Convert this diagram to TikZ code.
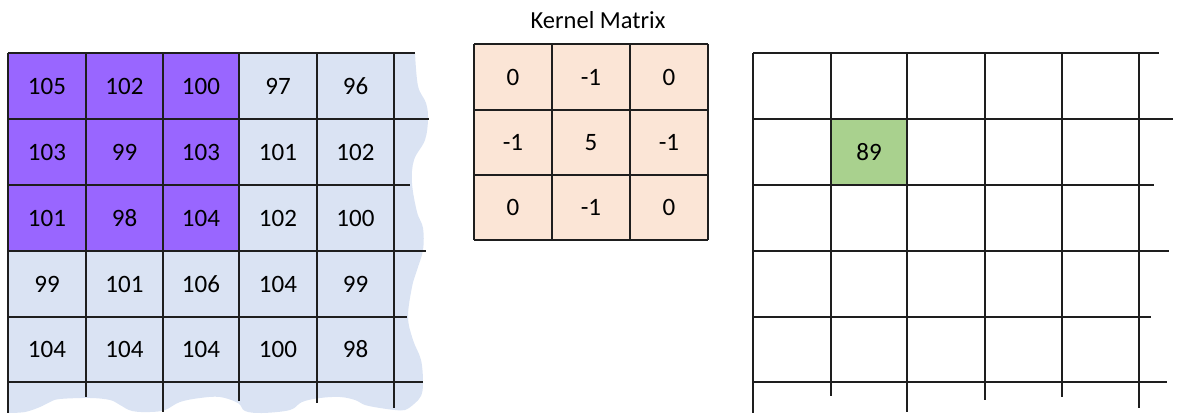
\documentclass[tikz,border=0pt]{standalone}
\usepackage{fontspec}
\setmainfont{Carlito}
\definecolor{gridblue}{HTML}{DAE3F3}
\definecolor{gridpurple}{HTML}{9966FF}
\definecolor{kpeach}{HTML}{FBE5D6}
\definecolor{kgreen}{HTML}{A9D18E}
\definecolor{lineblack}{HTML}{1E1E1E}
\tikzset{
  gline/.style={draw=lineblack, line width=1.5pt},
  numtext/.style={inner sep=0pt, font=\fontsize{25}{28}\selectfont, text=black},
  titletext/.style={inner sep=0pt, font=\fontsize{24.5}{28}\selectfont, text=black}
}
\begin{document}
\begin{tikzpicture}[x=1pt,y=-1pt]
\useasboundingbox (0,0) rectangle (1178,414);
% ---------- left input image ----------
\fill[gridblue] (8,53) -- plot[smooth, tension=0.6] coordinates {
 (415,53) (418,86) (426,103) (428,119) (425,140) (414,160) (412,183)
 (417,212) (423,228) (423,250) (417,270) (412,287) (408,317) (413,340)
 (421,360) (423,383) (421,396) (414,404) (405,410) (395,410) (380,408)
 (365,405) (355,400) (340,397) (320,398) (302,402) (290,410) (262,413)
 (245,411) (238,403) (220,397) (200,398) (180,402) (165,410) (150,412)
 (132,411) (120,405) (110,400) (90,398) (60,399) (50,402) (40,407)
 (25,412) (8,413)} -- cycle;
\fill[gridpurple] (8,53) rectangle (239,251);
% horizontal lines
\foreach \y/\xe in {53/415,119/429,185/410,251/426,317/407,382/423}
  \draw[gline] (8,\y) -- (\xe,\y);
% vertical lines
\foreach \x/\ye in {8/413,86/397,163/412,239/401,317/403,394/408}
  \draw[gline] (\x,53) -- (\x,\ye);
% numbers
\foreach \row/\y/\vals in {0/86/{105,102,100,97,96},1/152/{103,99,103,101,102},
  2/218/{101,98,104,102,100},3/284/{99,101,106,104,99},4/349.5/{104,104,104,100,98}}{
  \foreach \v [count=\c from 0] in \vals {
    \pgfmathsetmacro{\xc}{{47,124.5,201,278,355.5}[\c]}
    \node[numtext] (L-\row-\c) at (\xc,\y) {\v};
  }
}
% ---------- kernel ----------
\node[titletext] (ktitle) at (598,20) {Kernel Matrix};
\fill[kpeach] (474,44) rectangle (708,240);
\foreach \y in {44,110,175,240}
  \draw[gline] (474,\y) -- (708,\y);
\foreach \x in {474,552,630,708}
  \draw[gline] (\x,44) -- (\x,240);
\foreach \row/\y/\vals in {0/77/{0,-1,0},1/142.5/{-1,5,-1},2/207.5/{0,-1,0}}{
  \foreach \v [count=\c from 0] in \vals {
    \pgfmathsetmacro{\xc}{{513,591,669}[\c]}
    \node[numtext] (K-\row-\c) at (\xc,\y) {\v};
  }
}
% ---------- output ----------
\fill[kgreen] (831,119) rectangle (907,185);
\foreach \y/\xe in {53/1159,119/1173,185/1154,251/1169,317/1151,382/1167}
  \draw[gline] (753,\y) -- (\xe,\y);
\foreach \x/\ye in {753/413,831/396,907/412,985/400,1062/397,1139/408}
  \draw[gline] (\x,53) -- (\x,\ye);
\node[numtext] (out) at (869,152) {89};
\end{tikzpicture}
\end{document}
